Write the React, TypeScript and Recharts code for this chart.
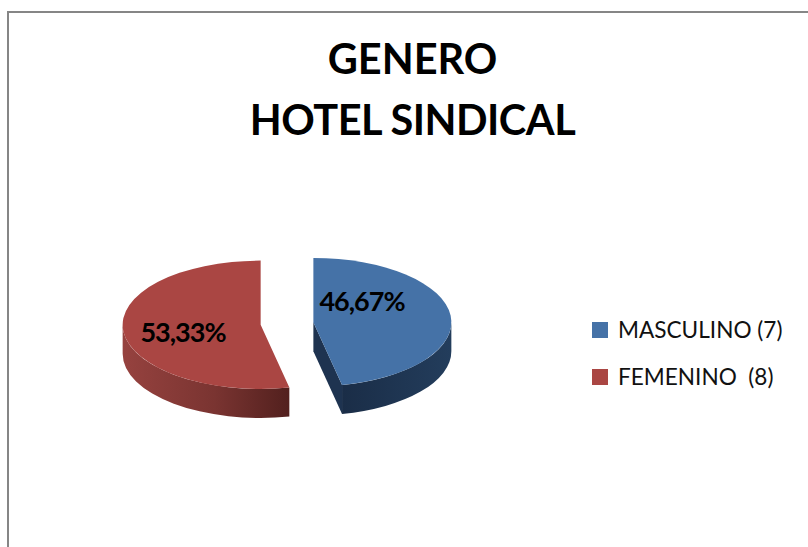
import { PieChart, Pie, Cell, Legend } from "recharts";

const categories = ["MASCULINO", "FEMENINO"];
const values = [7, 8];
const legendLabels = ["MASCULINO (7)", "FEMENINO  (8)"];
const colors = ["#4572A7", "#AA4643"];
const titleLines = ["GENERO", "HOTEL SINDICAL"];

const data = categories.map((name, i) => ({ name, value: values[i], fill: colors[i] }));

const RAD = Math.PI / 180;
const SQUASH = 0.465;
const DEPTH = 29;
const EXPLODE = 26.5;
const FONT = "Lato, 'Open Sans', sans-serif";

// 3D look: flatten the sector the library hands us and extrude the front edge
function Slice3D(props: any) {
  const { cx, cy, outerRadius: r, startAngle, endAngle, index, fill } = props;
  const mid = ((startAngle + endAngle) / 2) * RAD;
  const ox = EXPLODE * Math.cos(mid);
  const oy = -EXPLODE * Math.sin(mid) * SQUASH;
  const ry = r * SQUASH;
  const pt = (a: number, d = 0) =>
    `${cx + ox + r * Math.cos(a * RAD)} ${cy + oy - ry * Math.sin(a * RAD) + d}`;
  const large = Math.abs(startAngle - endAngle) > 180 ? 1 : 0;
  const center = (d = 0) => `${cx + ox} ${cy + oy + d}`;

  const a1 = Math.min(startAngle, 0);
  const a2 = Math.max(endAngle, -180);
  const isRight = ox > 0;
  const gid = `wall-${index}`;

  return (
    <g>
      <defs>
        <linearGradient id={gid} x1="0" y1="0" x2="1" y2="0">
          {isRight ? (
            <>
              <stop offset="0%" stopColor="#1a2d47" />
              <stop offset="100%" stopColor="#233d5c" />
            </>
          ) : (
            <>
              <stop offset="0%" stopColor="#96423f" />
              <stop offset="55%" stopColor="#7a3431" />
              <stop offset="100%" stopColor="#52201e" />
            </>
          )}
        </linearGradient>
      </defs>
      <path
        d={`M${pt(a1)} A${r} ${ry} 0 0 1 ${pt(a2)} L${pt(a2, DEPTH)} A${r} ${ry} 0 0 0 ${pt(a1, DEPTH)} Z`}
        fill={`url(#${gid})`}
      />
      {isRight && (
        <path
          d={`M${center()} L${pt(endAngle)} L${pt(endAngle, DEPTH)} L${center(DEPTH)} Z`}
          fill="#1e3350"
        />
      )}
      <path d={`M${center()} L${pt(startAngle)} A${r} ${ry} 0 ${large} 1 ${pt(endAngle)} Z`} fill={fill} />
    </g>
  );
}

const labelOffsets = [
  { dx: 75, dy: -23 },
  { dx: -104, dy: 8 },
];

function PercentLabel(props: any) {
  const { cx, cy, index, percent } = props;
  const off = labelOffsets[index];
  return (
    <text
      x={cx + off.dx}
      y={cy + off.dy}
      textAnchor="middle"
      dominantBaseline="central"
      fontFamily={FONT}
      fontWeight={700}
      fontSize={27}
      letterSpacing={-1}
      fill="#000"
    >
      {(percent * 100).toFixed(2).replace(".", ",") + "%"}
    </text>
  );
}

function SideLegend() {
  return (
    <div style={{ fontFamily: FONT, fontSize: 22.6, color: "#111" }}>
      {legendLabels.map((label, i) => (
        <div key={label} style={{ display: "flex", alignItems: "center", height: 47, whiteSpace: "pre" }}>
          <span style={{ width: 16, height: 16, background: colors[i], marginRight: 10 }} />
          {label}
        </div>
      ))}
    </div>
  );
}

export default function App() {
  return (
    <div style={{ position: "absolute", left: 0, top: 0, width: 808, height: 547, background: "#fff", overflow: "hidden" }}>
      <div style={{ position: "absolute", left: 7, top: 11, width: 801, height: 536, borderLeft: "2px solid #868686", borderTop: "2px solid #868686" }} />
      <PieChart
        width={808}
        height={547}
        margin={{ top: 0, right: 0, bottom: 0, left: 0 }}
        style={{ position: "absolute", left: 0, top: 0 }}
      >
        <text x={412.5} y={74} textAnchor="middle" fontFamily={FONT} fontWeight={700} fontSize={41.5} fill="#000">
          {titleLines[0]}
        </text>
        <text x={412.5} y={135} textAnchor="middle" fontFamily={FONT} fontWeight={700} fontSize={41.5} letterSpacing={-0.5} fill="#000">
          {titleLines[1]}
        </text>
        <Pie
          data={data}
          dataKey="value"
          nameKey="name"
          cx={287}
          cy={323.5}
          outerRadius={138}
          startAngle={90}
          endAngle={-270}
          stroke="none"
          shape={Slice3D}
          label={PercentLabel}
          labelLine={false}
          isAnimationActive={false}
        >
          {data.map((d) => (
            <Cell key={d.name} fill={d.fill} />
          ))}
        </Pie>
        <Legend
          content={<SideLegend />}
          wrapperStyle={{ position: "absolute", left: 592, top: 306, width: 216, bottom: "auto" }}
        />
      </PieChart>
    </div>
  );
}
